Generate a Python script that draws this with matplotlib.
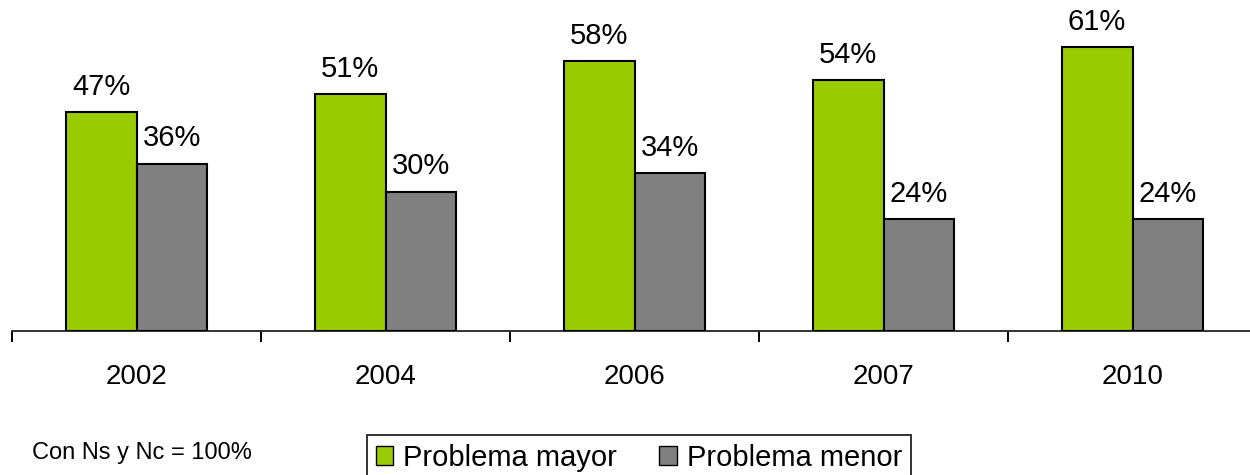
import numpy as np
import matplotlib.pyplot as plt
from matplotlib.patches import Patch

plt.rcParams["font.family"] = ["Liberation Sans", "DejaVu Sans"]

years = ["2002", "2004", "2006", "2007", "2010"]
mayor = [47, 51, 58, 54, 61]
menor = [36, 30, 34, 24, 24]
labels = ["Problema mayor", "Problema menor"]

green = "#99CC00"
gray = "#808080"

fig = plt.figure(figsize=(12.5, 4.75), dpi=100)
ax = fig.add_axes([0.0096, 0.3032, 0.996, 0.6968])

x = np.arange(len(years))
w = 0.285
b1 = ax.bar(x - w / 2, mayor, w, color=green, edgecolor="black", linewidth=1.5, zorder=3)
b2 = ax.bar(x + w / 2, menor, w, color=gray, edgecolor="black", linewidth=1.5, zorder=3)

# value labels above bars
for bars, vals in [(b1, mayor), (b2, menor)]:
    for rect, v in zip(bars, vals):
        ax.annotate(f"{v}%", (rect.get_x() + rect.get_width() / 2, v), xytext=(0, 12.5),
                    textcoords="offset points", ha="center", va="baseline", fontsize=21)

ax.set_xlim(-0.5, len(years) - 0.5)
ax.set_ylim(0, 71.2)

# boundary ticks, labels at category centers
ax.set_xticks(np.arange(len(years) + 1) - 0.5)
ax.set_xticklabels([])
ax.tick_params(axis="x", which="major", direction="out", length=8, width=1.4, color="black")
ax.set_xticks(x, minor=True)
ax.set_xticklabels(years, minor=True, fontsize=20)
ax.tick_params(axis="x", which="minor", length=0, pad=24)

ax.set_yticks([])
for s in ["top", "right", "left"]:
    ax.spines[s].set_visible(False)
ax.spines["bottom"].set_color("#333333")
ax.spines["bottom"].set_linewidth(1.4)

fig.text(0.0256, 0.046, "Con Ns y Nc = 100%", fontsize=17, va="center", ha="left")

handles = [Patch(facecolor=green, edgecolor="black"), Patch(facecolor=gray, edgecolor="black")]
leg = fig.legend(handles, labels, loc="upper left", bbox_to_anchor=(0.2936, 0.0842), ncol=2,
                 fontsize=21, frameon=True, fancybox=False, edgecolor="black",
                 handlelength=0.6, handleheight=0.6, handletextpad=0.34, columnspacing=1.45,
                 borderpad=0.3, borderaxespad=0)
leg.get_frame().set_linewidth(1.4)

fig.savefig("out.png", dpi=100)
